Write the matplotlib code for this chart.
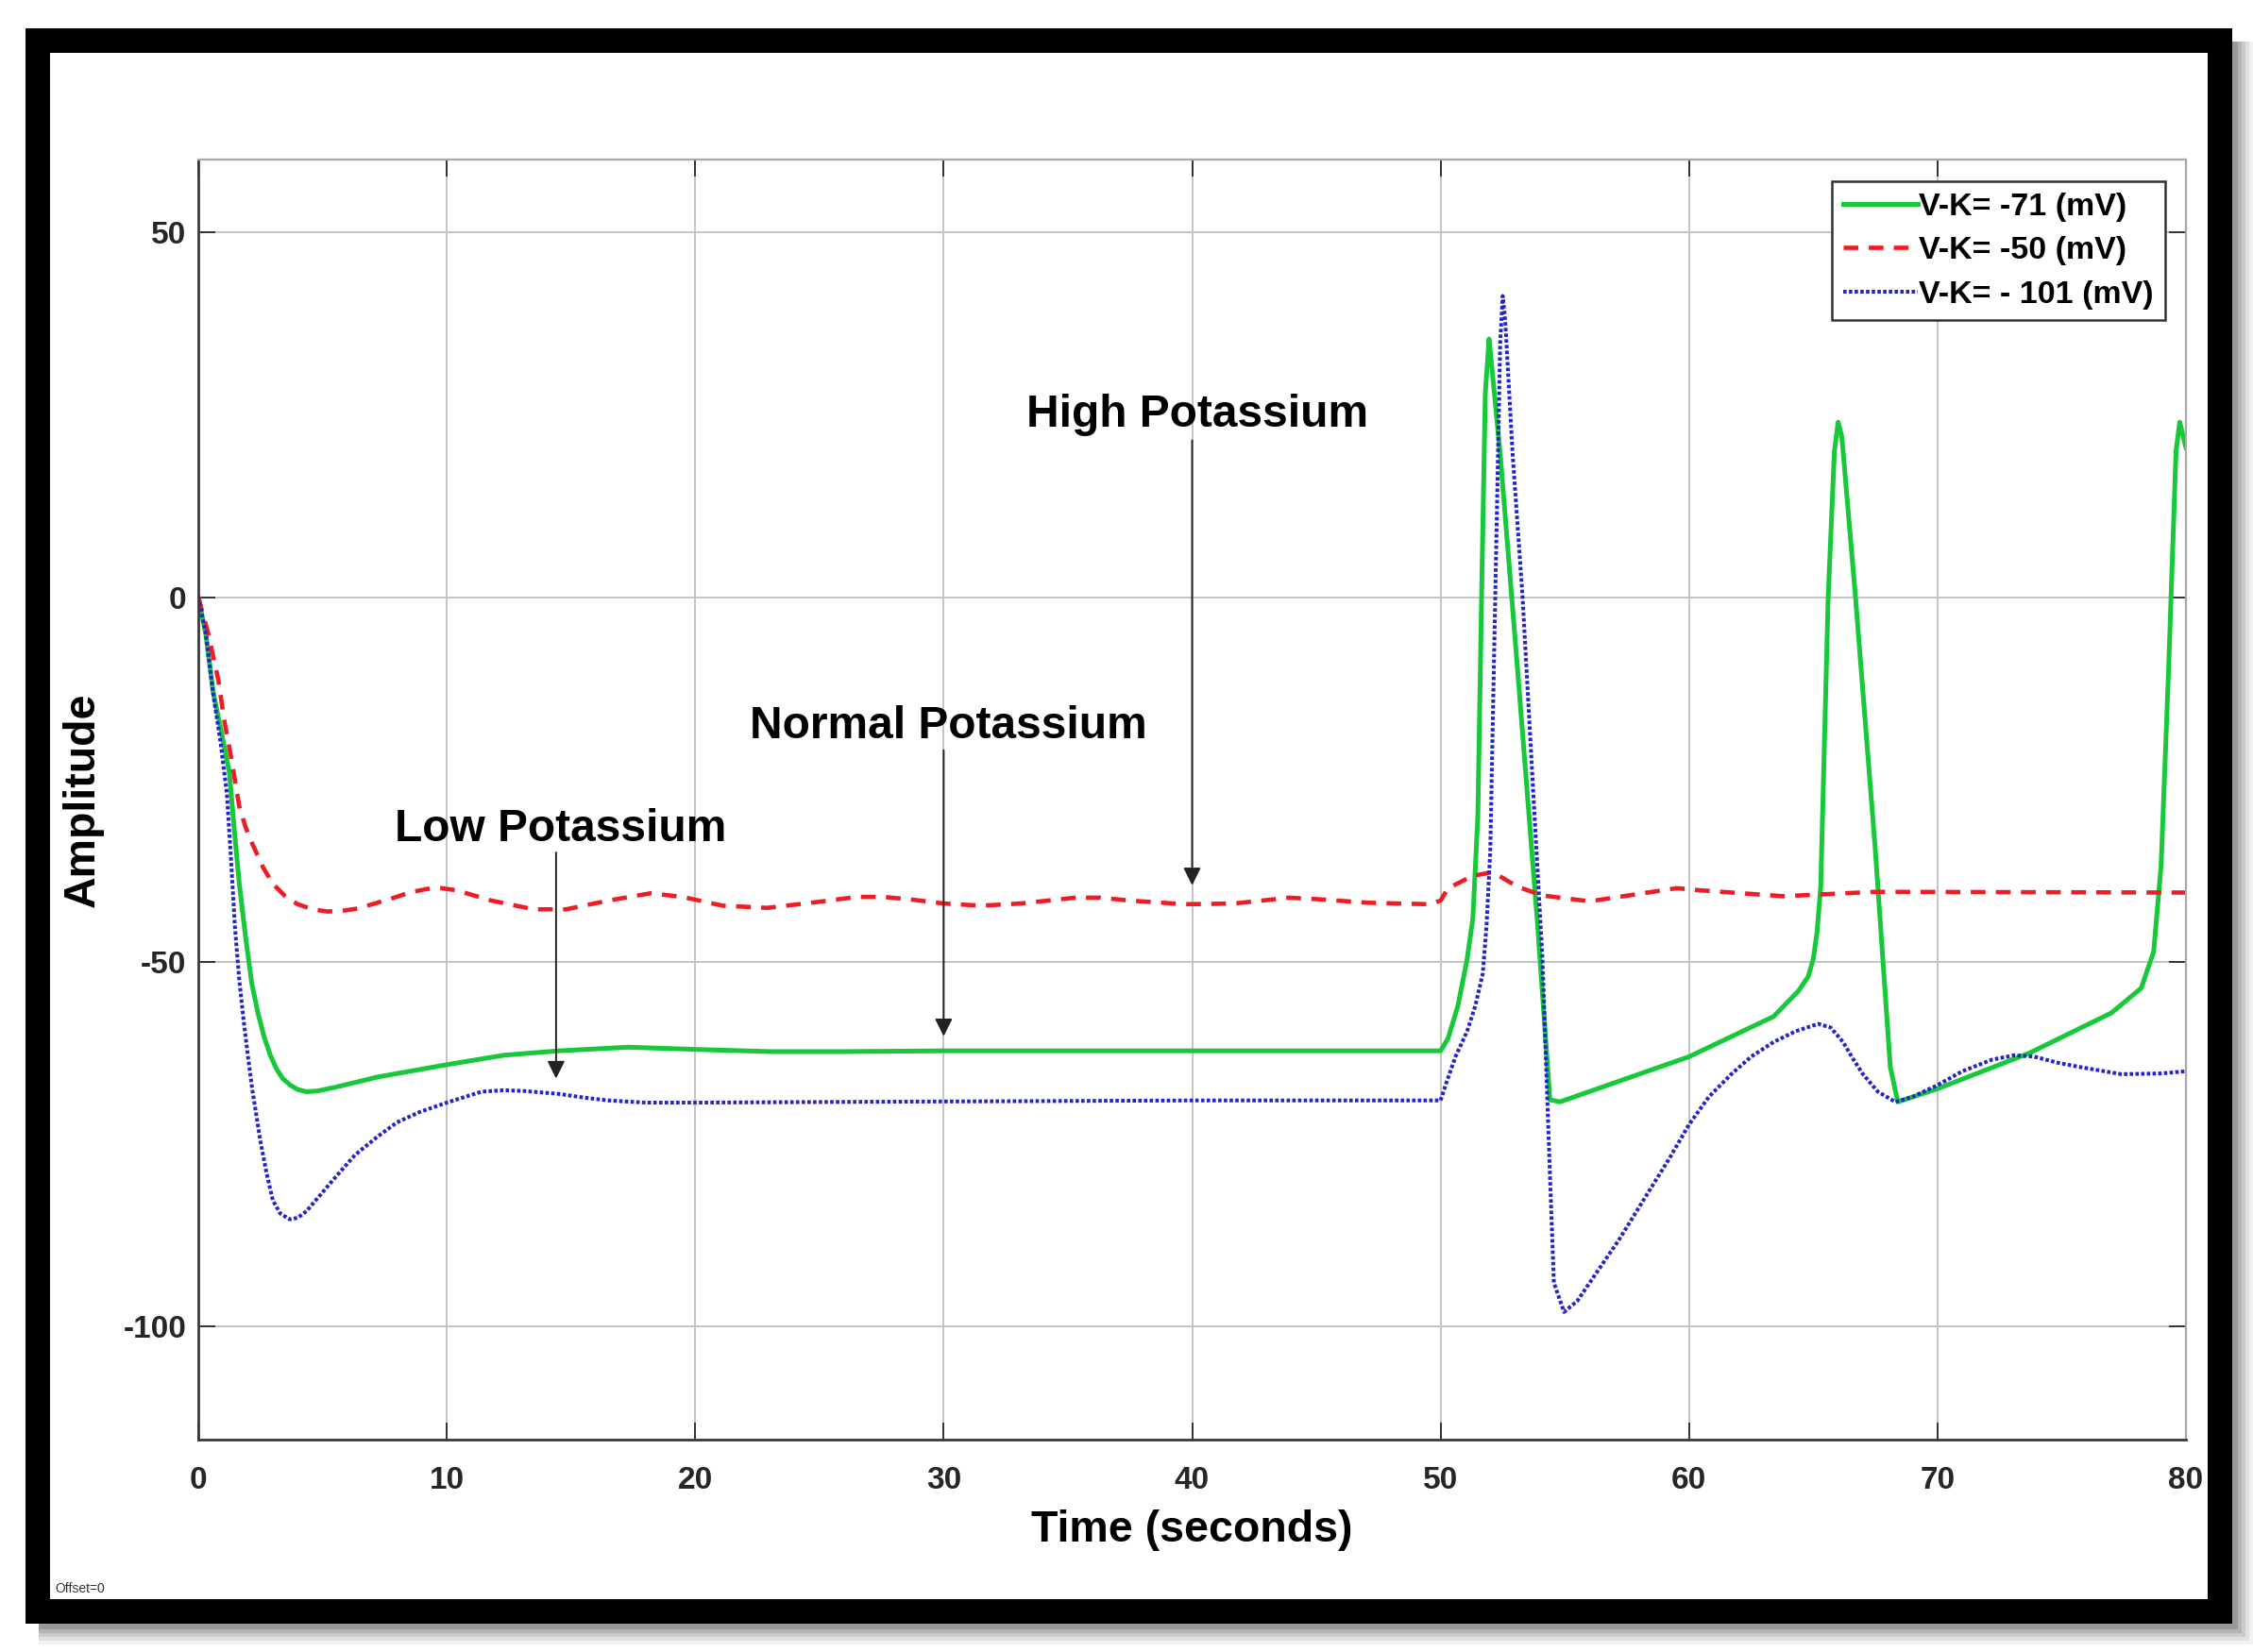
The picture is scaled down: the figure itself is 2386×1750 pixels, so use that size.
import matplotlib
matplotlib.use('Agg')
import matplotlib.pyplot as plt
from matplotlib.patches import Rectangle

plt.rcParams['font.family'] = ['Liberation Sans', 'DejaVu Sans']
plt.rcParams['axes.unicode_minus'] = False

# ------------------------------------------------------------
# data (time in s, amplitude in mV)
# ------------------------------------------------------------
t_normal = [0, 0.3, 0.6, 0.9, 1.25, 1.45, 1.65, 1.9, 2.15, 2.4, 2.65, 2.9, 3.15,
            3.4, 3.7, 4.0, 4.35, 4.8, 5.5, 7.2, 10, 12.3, 14.5, 17.3, 20, 23, 26,
            30, 40, 50, 50.3, 50.7, 51.07, 51.3, 51.5, 51.65, 51.8, 51.95, 52.05,
            52.4, 53.1, 53.9, 54.4, 54.8, 60, 63.4, 64.4, 64.8, 65, 65.15, 65.3,
            65.6, 65.85, 66.0, 66.15, 66.7, 67.5, 68.1, 68.4, 70, 73.7, 77, 78.2,
            78.7, 79.0, 79.3, 79.6, 79.75, 80]
v_normal = [0, -5, -13, -18, -24, -32, -39.3, -46.5, -52.9, -57, -60.3, -62.8,
            -64.7, -66, -66.9, -67.5, -67.8, -67.7, -67.2, -65.8, -64.1, -62.8,
            -62.2, -61.7, -62, -62.3, -62.3, -62.2, -62.2, -62.2, -60.5, -56,
            -49.6, -44, -30, 0, 28, 35.4, 32, 19.6, -10, -44.7, -68.9, -69.2, -63,
            -57.5, -54, -52, -49.6, -46, -39.7, 0, 20, 24, 22, 0, -34.8, -64.4,
            -69.2, -67.4, -62.5, -57, -53.6, -48.6, -36.8, -10, 20, 24, 20.5]

t_high = [0, 0.4, 0.81, 1.05, 1.32, 1.65, 1.9, 2.16, 2.6, 3.0, 3.5, 4.0, 4.6, 5.2,
          5.8, 6.4, 7.7, 8.5, 9.2, 9.8, 10.4, 11.8, 13.5, 14.8, 16.5, 18.2, 19.5,
          21.1, 22.9, 24.9, 26.5, 27.6, 28.8, 30, 31.5, 33.1, 35.3, 36.3, 37.5,
          39.7, 41.7, 43.9, 45, 47.1, 49.6, 50, 50.3, 51.3, 52.1, 53.1, 54.1,
          56.0, 59.5, 60.5, 63.8, 67.5, 80]
v_high = [0, -5, -11.4, -17, -21.9, -28.7, -31.5, -33.7, -37, -39.3, -41, -42.1,
          -42.8, -43.1, -43, -42.7, -41.4, -40.5, -40, -39.9, -40.2, -41.6, -42.8,
          -42.8, -41.6, -40.6, -41.1, -42.3, -42.6, -41.8, -41.1, -41.1, -41.5,
          -42, -42.3, -42, -41.2, -41.2, -41.6, -42.1, -42, -41.2, -41.4, -41.9,
          -42.1, -41.6, -39.9, -38.2, -37.7, -39.7, -40.9, -41.7, -39.9, -40.2,
          -41, -40.4, -40.5]

t_low = [0, 0.3, 0.6, 0.9, 1.15, 1.3, 1.48, 1.65, 1.82, 2.0, 2.16, 2.5, 2.75, 3.0,
         3.3, 3.68, 4.0, 4.35, 4.9, 5.5, 6.3, 7.2, 8.0, 8.9, 10, 11.4, 12.3, 13.1,
         14.5, 15.5, 16.5, 18, 20, 26, 40, 50, 50.25, 50.6, 51.07, 51.4, 51.7,
         51.85, 52.0, 52.2, 52.4, 52.5, 52.6, 52.9, 53.3, 53.7, 54.1, 54.4, 54.56,
         54.97, 55.5, 56.2, 57.2, 58.25, 59.2, 60, 60.8, 61.7, 62.5, 63.4, 64.3,
         65.2, 65.7, 66.2, 66.6, 67, 67.6, 68.3, 69, 70, 71, 72.2, 73.1, 73.9,
         74.8, 75.7, 77.4, 79, 80]
v_low = [0, -5, -13.3, -20, -26.9, -35, -45.5, -52.5, -57.9, -63, -67.2, -74.6,
         -79, -82.7, -84.5, -85.3, -85.1, -84.2, -82, -79.6, -76.5, -74, -72,
         -70.6, -69.3, -67.8, -67.6, -67.7, -68.1, -68.6, -69, -69.3, -69.3,
         -69.2, -69, -69, -66.4, -63, -59.5, -56, -51.6, -45, -34.8, 0, 35, 41.3,
         38, 19.6, 0, -24.9, -49.6, -79, -94, -98, -96.5, -93, -88, -82.2, -77,
         -72.3, -68.5, -65.4, -63, -61, -59.5, -58.5, -59, -61, -63.3, -65.4,
         -67.8, -69.2, -68.5, -66.9, -65, -63.4, -62.8, -63, -63.8, -64.4, -65.4,
         -65.3, -65]

labels = ['V-K= -71 (mV)', 'V-K= -50 (mV)', 'V-K= - 101 (mV)']

# annotations: text, text anchor (x, baseline), arrow start, arrow tip
notes = [
    ('High Potassium',   (40.2, 23.4),  (40.0, 21.5),  (40.0, -39.5)),
    ('Normal Potassium', (30.2, -19.3), (30.0, -21.0), (30.0, -60.2)),
    ('Low Potassium',    (14.6, -33.4), (14.4, -35.0), (14.4, -66.0)),
]

# ------------------------------------------------------------
W, H = 2386, 1750
fig = plt.figure(figsize=(W / 100, H / 100), dpi=100)
fig.patch.set_facecolor('white')

def fr(x0, y0, x1, y1):
    # pixel box (top-left origin) -> figure fraction rect
    return (x0 / W, 1 - y1 / H), (x1 - x0) / W, (y1 - y0) / H

# drop shadow + black frame
for k, a in enumerate([0.05, 0.07, 0.09, 0.11, 0.14]):
    d = 22 - 4 * k
    xy, w, h = fr(27 + 14, 30 + 14, 2364 + d, 1720 + d)
    fig.add_artist(Rectangle(xy, w, h, transform=fig.transFigure,
                             facecolor='black', edgecolor='none', alpha=a, zorder=-5))
xy, w, h = fr(27, 30, 2364, 1720)
fig.add_artist(Rectangle(xy, w, h, transform=fig.transFigure,
                         facecolor='black', edgecolor='none', zorder=-4))
xy, w, h = fr(53, 56, 2338, 1694)
fig.add_artist(Rectangle(xy, w, h, transform=fig.transFigure,
                         facecolor='white', edgecolor='none', zorder=-3))

ax = fig.add_axes([210 / W, 1 - 1525 / H, 2105 / W, 1356 / H])

ax.plot(t_normal, v_normal, color='#17c83a', lw=3.6, label=labels[0],
        solid_joinstyle='round')
ax.plot(t_high, v_high, color='#ee1c24', lw=3.3, linestyle=(0, (3.4, 2.4)),
        label=labels[1])
ax.plot(t_low, v_low, color='#2424c8', lw=2.9, linestyle=(0, (0.9, 0.6)),
        label=labels[2])

ax.set_xlim(0, 80)
ax.set_ylim(-115.5, 60)
ax.set_xticks(range(0, 81, 10))
ax.set_yticks([-100, -50, 0, 50])
ax.grid(True, color='#c4c4c4', lw=1.4)
ax.set_axisbelow(True)

ax.tick_params(direction='in', length=13, width=1.4, color='#333333',
               top=True, right=True, labelsize=24, labelcolor='#262626')
ax.tick_params(axis='x', pad=20)
ax.tick_params(axis='y', pad=9)
for lab in ax.get_xticklabels() + ax.get_yticklabels():
    lab.set_fontweight('bold')

for s in ['left', 'bottom']:
    ax.spines[s].set_color('#3a3a3a')
    ax.spines[s].set_linewidth(2.0)
for s in ['top', 'right']:
    ax.spines[s].set_color('#a8a8a8')
    ax.spines[s].set_linewidth(1.6)

ax.set_xlabel('Time (seconds)', fontsize=33.5, fontweight='bold', va='baseline')
ax.xaxis.set_label_coords(0.5, -0.0796)
ax.set_ylabel('Amplitude', fontsize=33.5, fontweight='bold', va='center')
ax.yaxis.set_label_coords(-0.058, 0.5)

for txt, (tx, ty), (ax0, ay0), (ax1, ay1) in notes:
    ax.text(tx, ty, txt, fontsize=34.5, fontweight='bold', ha='center', va='baseline')
    ax.annotate('', xy=(ax1, ay1), xytext=(ax0, ay0),
                arrowprops=dict(arrowstyle='-|>', color='#222222', lw=1.4,
                                mutation_scale=28, shrinkA=0, shrinkB=0))

leg = ax.legend(loc='upper right', bbox_to_anchor=(0.9895, 0.983), borderaxespad=0,
                fancybox=False, framealpha=1, edgecolor='#333333',
                prop={'size': 24.5, 'weight': 'bold'}, handlelength=2.3,
                handletextpad=0.05, labelspacing=0.45, borderpad=0.35)
leg.get_frame().set_linewidth(1.8)

fig.text(58 / W, 1 - 1683 / H, 'Offset=0', fontsize=10, color='#333333', va='center')

plt.savefig('out.png', dpi=100)
plt.close()
